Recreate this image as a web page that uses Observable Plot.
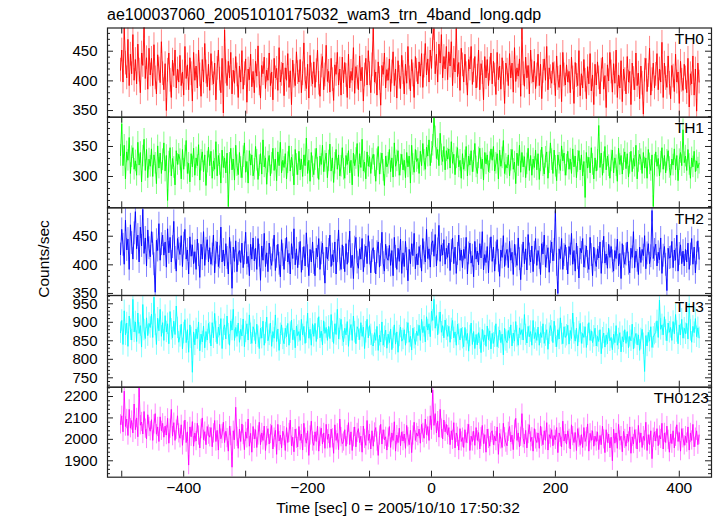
<!DOCTYPE html>
<html>
<head>
<meta charset="utf-8">
<script src="https://cdn.jsdelivr.net/npm/d3@7"></script>
<script src="https://cdn.jsdelivr.net/npm/@observablehq/plot@0.6"></script>
<style>
  html, body { margin: 0; padding: 0; background: #fff; }
  #chart { position: relative; width: 717px; height: 516px; overflow: hidden; font-family: "Liberation Sans", Arial, sans-serif; color: #000; }
  .lbl { position: absolute; white-space: nowrap; line-height: 1; }
</style>
</head>
<body>
<div id="chart"></div>
<script>
// ---- data: light curves (sampled every 2 s from t = -502 s) ----
const titleText = "ae100037060_20051010175032_wam3_trn_4band_long.qdp";
const xLabelText = "Time [sec] 0 = 2005/10/10 17:50:32";
const yLabelText = "Counts/sec";
const bandNames = ["TH0", "TH1", "TH2", "TH3", "TH0123"];
const tStart = -502;
const tStep = 2;
const xTickValues = [-400, -200, 0, 200, 400];
// typical 1-sigma error of a bin, per band (counts/sec)
const bandErrors = [20, 18, 20, 29, 45];

const th0 = [
418,452,398,489,430,405,470,392,445,412,478,401,
436,395,462,418,380,447,426,492,404,439,386,455,
410,438,392,461,405,378,444,420,397,466,412,385,
429,350,418,447,401,372,435,409,452,388,420,398,
443,392,415,376,458,404,427,385,439,412,366,448,
401,425,388,452,410,374,436,398,463,415,390,428,
384,446,412,395,430,368,421,452,403,380,438,346,
486,415,392,433,405,448,378,418,396,441,410,372,
425,398,451,386,412,437,364,420,402,445,390,416,
380,433,408,459,395,371,426,412,440,387,418,401,
447,392,415,368,438,405,421,384,456,398,411,430,
375,422,401,446,389,417,360,435,408,392,449,414,
398,436,380,412,464,402,387,428,371,443,410,395,
432,389,417,452,396,374,425,441,385,410,460,399,
416,381,438,402,367,427,411,448,393,420,376,440,
397,431,409,372,445,388,416,401,456,379,424,406,
385,442,400,423,366,410,438,393,451,412,380,427,
489,398,415,376,432,404,359,426,411,447,388,419,
401,437,382,415,449,392,420,371,434,406,387,443,
414,378,428,396,458,405,383,436,410,372,441,418,
395,432,408,446,389,425,463,410,437,398,452,421,
470,488,412,445,398,462,430,478,405,441,420,458,
402,449,425,466,392,438,415,488,407,431,384,455,
427,398,445,412,376,436,420,458,394,417,441,388,
408,452,385,429,414,368,441,405,436,392,420,447,
395,433,410,377,448,402,425,386,439,413,362,430,
418,392,446,405,430,381,456,399,422,408,437,374,
489,412,391,440,405,426,378,452,415,398,433,387,
410,445,392,428,370,416,437,401,458,385,422,407,
396,431,412,375,442,404,389,427,365,448,410,393,
427,398,416,380,440,405,362,431,409,392,451,375,
412,388,436,401,370,424,395,446,383,410,360,428,
393,432,405,378,418,440,386,409,355,427,400,448,
415,381,429,396,452,372,410,388,434,365,420,402,
378,441,398,416,360,430,404,385,447,392,413,370,
425,396,344,418,438,382,409,455,376,402,430,388,
411,446,385,420,398,465,372,430,404,389,442,396,
370,426,408,382,445,398,415,362,433,401,384,428,
405,380,438,356,412,395,442,376,420,349,430,398
];
const th1 = [
335,388,318,352,296,341,327,365,305,333,348,312,
326,302,357,319,340,291,334,362,310,345,298,329,
317,346,300,336,322,288,351,314,339,305,328,356,
309,335,260,324,348,301,330,315,286,343,320,337,
328,296,345,312,334,360,305,322,291,338,316,347,
302,331,318,353,294,327,341,308,336,285,324,349,
318,342,297,326,312,358,301,335,320,289,344,315,
331,306,339,250,322,347,311,329,294,352,318,303,
340,315,298,333,356,307,325,289,343,319,336,301,
312,350,327,295,318,338,304,361,316,331,287,324,
335,301,322,347,310,329,293,341,318,357,306,327,
315,338,296,323,351,309,332,318,286,345,320,303,
342,311,329,300,336,318,364,305,327,292,340,316,
303,328,347,314,295,334,320,352,308,325,339,298,
326,354,309,331,290,322,345,312,336,301,317,348,
312,297,335,320,343,306,327,286,339,318,330,355,
300,338,315,362,309,324,296,341,317,333,305,329,
337,318,292,328,350,304,321,339,310,285,334,316,
322,345,308,331,299,356,317,326,343,302,319,337,
311,327,298,340,316,334,289,352,320,307,345,325,
330,305,342,318,355,327,312,349,334,361,318,340,
352,399,366,330,345,318,372,336,325,350,311,343,
329,346,314,358,322,337,303,331,348,316,327,297,
338,312,326,350,301,334,319,343,308,325,355,316,
305,331,347,313,329,294,340,321,336,308,323,346,
327,350,309,322,338,296,344,317,331,360,305,320,
314,336,301,327,345,312,324,288,339,318,352,307,
340,316,333,298,321,347,310,335,302,329,315,344,
311,338,295,326,349,318,304,332,341,297,323,356,
328,305,344,317,293,336,322,310,351,326,339,302,
319,342,312,329,305,346,316,334,298,325,343,311,
336,301,325,265,340,314,332,306,348,320,296,331,
309,327,385,315,339,302,323,350,311,334,318,297,
326,344,306,331,318,292,347,320,335,304,328,341,
313,338,299,322,342,308,330,317,352,296,325,337,
328,305,340,314,331,297,345,321,310,336,250,319,
341,317,330,301,324,348,312,335,306,327,343,315,
302,329,319,346,311,335,293,328,340,318,378,323,
334,310,345,320,297,331,316,342,308,326,314,322
];
const th2 = [
418,462,435,401,478,426,445,392,470,438,410,455,
493,428,452,405,466,433,497,420,447,398,461,429,
414,458,437,401,352,443,425,472,408,436,452,417,
440,396,463,421,448,405,431,476,412,389,446,428,
418,451,397,437,462,410,426,384,449,415,435,402,
423,392,445,417,378,436,410,458,399,428,444,405,
430,401,418,452,386,421,440,397,413,466,405,426,
398,437,412,384,448,420,359,431,406,442,388,419,
425,404,438,395,420,457,402,415,381,436,410,447,
407,429,392,446,416,373,433,408,455,397,421,388,
438,411,399,425,452,390,414,436,402,379,444,417,
392,426,448,405,420,384,437,411,463,400,428,395,
419,441,387,410,432,398,456,415,381,427,405,440,
403,381,429,414,446,392,420,438,401,368,431,410,
426,452,397,418,405,440,384,424,461,409,392,435,
412,388,437,401,423,459,395,417,376,430,448,404,
394,428,410,446,388,415,433,402,451,420,386,424,
430,405,384,422,440,396,417,457,403,389,436,412,
408,434,399,425,381,448,414,392,429,406,445,385,
421,397,441,410,372,427,402,437,416,455,393,419,
400,432,414,389,446,420,405,462,411,428,396,437,
442,415,453,398,427,469,406,435,417,444,401,429,
413,438,390,424,447,402,431,385,419,452,408,426,
395,427,411,448,384,420,438,403,416,379,441,410,
424,400,437,412,458,391,418,404,432,386,427,449,
406,431,389,420,444,407,380,426,413,451,397,418,
427,395,441,408,422,383,436,415,399,447,410,374,
415,440,402,428,391,453,418,405,433,388,421,446,
399,425,412,383,437,419,452,396,414,430,387,422,
440,407,426,495,400,350,428,411,446,392,417,435,
410,384,432,418,455,401,425,389,438,412,377,429,
421,446,396,414,433,405,392,448,417,381,431,408,
397,428,412,440,385,422,450,403,419,394,436,413,
432,406,389,425,411,445,398,420,376,437,414,401,
418,440,402,386,429,413,458,395,424,407,383,431,
404,427,416,451,393,420,437,402,415,495,411,426,
436,398,422,409,447,385,416,432,400,355,429,412,
413,441,395,426,408,452,389,419,435,402,424,398,
427,405,438,392,418,446,401,431,386,420,442,410
];
const th3 = [
872,905,840,931,866,898,835,917,880,852,962,874,
901,848,925,870,891,833,948,879,856,912,864,897,
886,922,859,968,893,840,911,877,935,862,899,851,
918,874,896,842,929,881,858,903,867,944,885,846,
862,895,828,871,907,845,880,819,893,858,765,874,
839,882,856,901,823,868,847,890,831,875,852,897,
871,836,899,858,924,874,842,887,865,910,829,880,
893,855,917,868,838,904,879,935,851,886,862,898,
846,881,863,909,834,874,896,852,920,869,843,888,
878,842,895,861,829,884,857,903,838,871,914,850,
866,898,835,875,857,920,848,882,824,869,893,855,
842,884,861,897,838,872,906,853,879,831,890,864,
875,851,908,866,889,843,872,925,857,881,838,896,
862,897,848,882,915,858,876,839,904,870,886,851,
889,856,921,874,843,896,867,935,855,881,908,864,
847,884,866,902,835,878,894,851,917,873,842,888,
880,853,899,862,887,829,873,908,858,891,866,840,
836,872,851,889,824,865,847,901,838,861,879,830,
868,845,882,826,858,893,841,874,819,863,887,849,
855,880,838,871,899,846,862,825,884,857,840,876,
864,892,851,908,872,889,847,915,879,896,861,930,
905,962,884,918,866,897,928,873,891,858,906,880,
862,889,846,882,905,858,874,838,895,867,852,884,
857,834,886,851,870,822,863,898,840,875,829,867,
839,872,856,818,881,848,866,835,890,853,877,828,
870,843,861,896,834,858,879,845,868,812,884,851,
845,878,857,893,836,871,849,902,862,838,885,867,
880,852,921,866,844,889,861,875,838,905,856,872,
851,887,838,872,859,896,843,864,880,827,869,891,
876,845,903,861,834,880,855,912,868,842,888,859,
865,892,841,878,856,925,870,849,884,836,874,897,
843,870,859,888,832,866,899,851,877,845,862,884,
836,862,848,880,815,857,871,833,866,842,884,850,
859,826,868,845,891,838,855,872,820,861,847,880,
843,875,831,862,850,895,828,857,870,839,866,824,
855,881,842,767,864,836,873,849,888,832,859,868,
872,904,859,960,881,893,866,915,878,850,898,873,
886,851,902,869,921,875,842,893,866,908,857,884,
869,897,855,951,878,846,889,872,910,861,885,858
];
const th0123 = [
2070,2110,2035,2225,2060,2095,2018,2140,2052,2088,2030,2165,
2045,2100,2012,2240,2066,2081,2025,2130,2050,2002,2115,2058,
2038,2092,1995,2070,2120,2024,2058,1990,2105,2040,2075,2010,
2062,2020,2098,1982,2050,2140,2015,2078,1995,2045,2110,2028,
2005,2068,1972,2040,2090,1985,2035,1880,2058,2012,2083,1968,
2030,1992,2075,2018,1960,2048,2100,1998,2036,1975,2060,2022,
2010,2055,1965,2028,2088,1990,2042,1950,2070,2003,2025,2080,
1985,2038,2006,1945,2062,2015,1870,2040,1998,2150,2012,1958,
2048,1990,2072,2020,1952,2035,2005,2095,1968,2028,1940,2060,
2002,2045,1962,2018,2080,1975,2030,1995,2062,1948,2015,2050,
1978,2025,2065,1955,2008,2042,1930,2070,1992,2020,1960,2038,
2015,1948,2055,1985,2030,2090,1970,2010,1942,2048,2003,1965,
2060,1995,2025,1950,2075,2008,1982,2040,1925,2018,2085,1990,
1972,2035,1990,2062,1945,2012,2052,1978,2030,1958,2070,2000,
2025,1962,2048,2005,1935,2068,1995,2028,1952,2095,2010,1980,
1990,2045,1968,2020,2078,1975,2035,1948,2010,2058,1965,2030,
2050,1985,2015,1940,2062,2002,1972,2088,1995,2025,1955,2040,
1968,2032,2055,1990,1925,2018,2070,1978,2045,1998,2012,1950,
2008,2060,1962,2030,1995,2082,1945,2020,1985,2052,1970,2035,
1992,2025,1958,2065,2010,1975,2042,1938,2018,2080,1995,2030,
2015,2048,1982,2070,2030,2005,2095,2022,2060,1995,2110,2045,
2230,2065,2120,2030,2085,2010,2140,2050,2002,2090,2035,2070,
2020,2055,1975,2040,1998,2078,1960,2030,2012,1950,2050,1990,
2008,1962,2045,1985,2025,2070,1948,2015,1990,2038,1972,2055,
1995,2032,1955,2010,2065,1980,2022,1940,2048,2002,1968,2030,
2040,1975,2015,1992,2058,1930,2028,2000,1962,2075,2010,1985,
1970,2035,2060,1988,2020,1952,2045,2098,1995,2030,1965,2012,
2120,2005,1978,2042,1960,2025,2068,1990,2010,1945,2050,2000,
1985,2030,1958,2062,2012,1975,2040,1995,2078,1950,2022,2005,
2045,1970,2018,1998,2055,1938,2030,2010,1965,2085,1992,2025,
1978,2040,2002,1955,2068,2015,1985,2032,1948,2050,2008,1972,
2022,1962,2055,1990,2010,2072,1945,2028,1995,2040,1968,2015,
1990,2035,1952,2018,1975,2062,2000,1938,2045,1985,2025,1960,
2010,1900,2048,1982,2030,1958,2070,1995,2015,1942,2038,2002,
1968,2025,1990,2058,1935,2012,1978,2045,2000,1955,2065,1985,
2030,1962,2015,1995,2080,1948,2022,1975,2040,1910,2008,2035,
1992,2050,1970,2018,2002,2075,1955,2030,1985,2062,1998,1940,
2025,1980,2040,1960,2012,2068,1990,2032,1945,2050,2005,1972,
2015,1985,2058,1950,2030,1995,2070,1965,2008,2040,1975,2020
];
const seriesValues = [th0, th1, th2, th3, th0123];
const yMajorTicks = [[350, 400, 450], [300, 350], [350, 400, 450], [750, 800, 850, 900, 950], [1900, 2000, 2100, 2200]];
const yDomains = [[338.8, 489.1], [247.8, 398.8], [346.4, 499.7], [724.6, 972.4], [1823.4, 2243.4]];
const yMinorSteps = [10, 10, 10, 10, 20];
const colors = ["#ff0000", "#00ff00", "#0000ff", "#00ffff", "#ff00ff"];

// ---- layout ----
const W = 717, H = 516, ML = 107, MR = 6;
const panelEdges = [27.5, 116.7, 207.3, 295.0, 386.7, 476.7];
const xDomain = [-523, 452];
const FW = W - ML - MR;
const frameColor = "#222";
const labelRight = [7.5, 7.5, 7.5, 7.5, 2.5];

const chart = document.getElementById("chart");

function addLabel(text, css) {
  const d = document.createElement("div");
  d.className = "lbl";
  d.textContent = text;
  Object.assign(d.style, css);
  chart.appendChild(d);
}

const xMinorAll = d3.range(-500, 451, 100);

seriesValues.forEach((vals, p) => {
  const top = panelEdges[p], bottom = panelEdges[p + 1];
  const FH = bottom - top;
  const err = bandErrors[p];
  const data = vals.map((v, i) => ({t: tStart + i * tStep, v, lo: v - err, hi: v + err}));
  const dom = yDomains[p];
  const step = yMinorSteps[p];
  const minor = d3.range(Math.ceil(dom[0] / step) * step, dom[1], step).filter(v => !yMajorTicks[p].includes(v));
  const isLast = p === seriesValues.length - 1;
  const marks = [
    Plot.ruleX(data, {x: "t", y1: "lo", y2: "hi", stroke: colors[p], strokeOpacity: 0.55, strokeWidth: 0.9, clip: true}),
    Plot.line(data, {x: "t", y: "v", stroke: colors[p], strokeWidth: 0.9, clip: true}),
    // y ticks, inward on both sides
    Plot.tickY(yMajorTicks[p], {y: d => d, stroke: frameColor, insetRight: FW - 6}),
    Plot.tickY(yMajorTicks[p], {y: d => d, stroke: frameColor, insetLeft: FW - 6}),
    Plot.tickY(minor, {y: d => d, stroke: frameColor, insetRight: FW - 3}),
    Plot.tickY(minor, {y: d => d, stroke: frameColor, insetLeft: FW - 3}),
    // x ticks, inward top and bottom
    Plot.tickX(xMinorAll, {x: d => d, stroke: frameColor, insetBottom: FH - 6}),
    Plot.tickX(xMinorAll, {x: d => d, stroke: frameColor, insetTop: FH - 6}),
    Plot.frame({stroke: frameColor, strokeWidth: 1.2}),
    Plot.axisY(yMajorTicks[p], {tickSize: 0, tickPadding: 10, label: null, tickFormat: d => String(d)}),
    Plot.text([bandNames[p]], {frameAnchor: "top-right", text: d => d, dx: -labelRight[p], dy: 5, fontSize: 15.5, textAnchor: "end", lineAnchor: "top"})
  ];
  if (isLast) {
    marks.push(Plot.axisX(xTickValues, {tickSize: 0, tickPadding: 5, label: null, fontSize: 15.5}));
  }
  const svg = Plot.plot({
    width: W,
    height: H,
    marginTop: top,
    marginBottom: H - bottom,
    marginLeft: ML,
    marginRight: MR,
    x: {domain: xDomain, axis: isLast ? undefined : null},
    y: {domain: dom},
    style: {position: "absolute", left: "0px", top: "0px", background: "transparent", overflow: "visible", fontSize: "15px", fontFamily: "'Liberation Sans', Arial, sans-serif", color: "#000"},
    marks
  });
  chart.appendChild(svg);
});

addLabel(titleText, {left: "107px", top: "6.5px", fontSize: "16px"});
addLabel(xLabelText, {left: "398px", top: "500.2px", fontSize: "15.5px", transform: "translateX(-50%)"});
addLabel(yLabelText, {left: "43.5px", top: "259px", fontSize: "15.5px", transform: "translate(-50%, -50%) rotate(-90deg)"});
</script>
</body>
</html>
